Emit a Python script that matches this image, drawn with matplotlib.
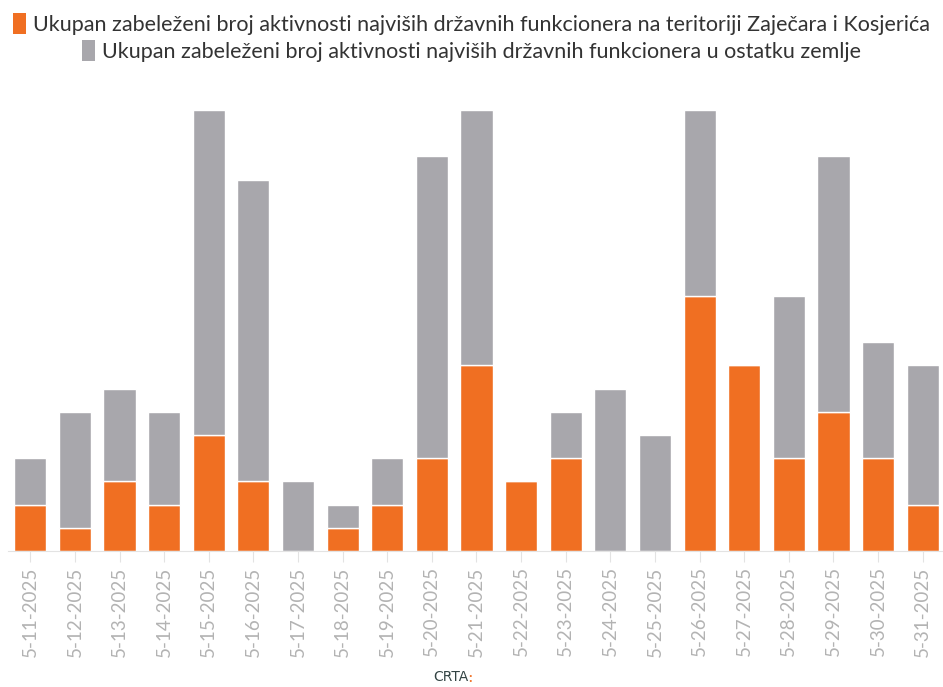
import matplotlib

matplotlib.use("Agg")
import matplotlib.pyplot as plt
from matplotlib.patches import Patch

plt.rcParams["font.family"] = ["Lato", "DejaVu Sans"]

# data
dates = [
    "5-11-2025", "5-12-2025", "5-13-2025", "5-14-2025", "5-15-2025", "5-16-2025",
    "5-17-2025", "5-18-2025", "5-19-2025", "5-20-2025", "5-21-2025", "5-22-2025",
    "5-23-2025", "5-24-2025", "5-25-2025", "5-26-2025", "5-27-2025", "5-28-2025",
    "5-29-2025", "5-30-2025", "5-31-2025",
]
zajecar_kosjeric = [2, 1, 3, 2, 5, 3, 0, 1, 2, 4, 8, 3, 4, 0, 0, 11, 8, 4, 6, 4, 2]
ostatak_zemlje = [2, 5, 4, 4, 14, 13, 3, 1, 2, 13, 11, 0, 2, 7, 5, 8, 0, 7, 11, 5, 6]

label_zk = "Ukupan zabeleženi broj aktivnosti najviših državnih funkcionera na teritoriji Zaječara i Kosjerića"
label_oz = "Ukupan zabeleženi broj aktivnosti najviših državnih funkcionera u ostatku zemlje"

orange = "#F06F22"
gray = "#A8A7AC"

fig = plt.figure(figsize=(9.43, 6.87), dpi=100)
ax = fig.add_axes([8 / 943, 136 / 687, 937 / 943, 441 / 687])

x = range(len(dates))
ax.bar(x, zajecar_kosjeric, width=0.72, color=orange, edgecolor="white", linewidth=1)
ax.bar(x, ostatak_zemlje, width=0.72, bottom=zajecar_kosjeric, color=gray,
       edgecolor="white", linewidth=1)

ax.set_xlim(-0.5, len(dates) - 0.5)
ax.set_ylim(0, 19)
ax.set_yticks([])
for s in ["top", "right", "left"]:
    ax.spines[s].set_visible(False)
ax.spines["bottom"].set_color("#e3e3e3")
ax.set_xticks(list(x))
ax.set_xticklabels(dates, rotation=90, fontsize=13.5, color="#b3b3b3")
ax.tick_params(axis="x", length=8, color="#e3e3e3", pad=3)

# legend, one centred line per series
for lab, col, y in [(label_zk, orange, 1.003), (label_oz, gray, 0.963)]:
    h = Patch(facecolor=col, edgecolor="none")
    fig.legend(handles=[h], labels=[lab], loc="upper center", bbox_to_anchor=(0.5, y),
               frameon=False, fontsize=15.5, handlelength=0.6, handleheight=1.1,
               handletextpad=0.3, labelcolor="#333333", borderaxespad=0.3)

fig.text(0.497, 0.004, "CRTA", fontsize=10, color="#334444", ha="right", va="bottom",
         family=["DejaVu Sans Condensed", "DejaVu Sans"])
fig.text(0.497, 0.004, ":", fontsize=10, color=orange, ha="left", va="bottom",
         fontweight="bold")

fig.savefig("out.png", dpi=100)
